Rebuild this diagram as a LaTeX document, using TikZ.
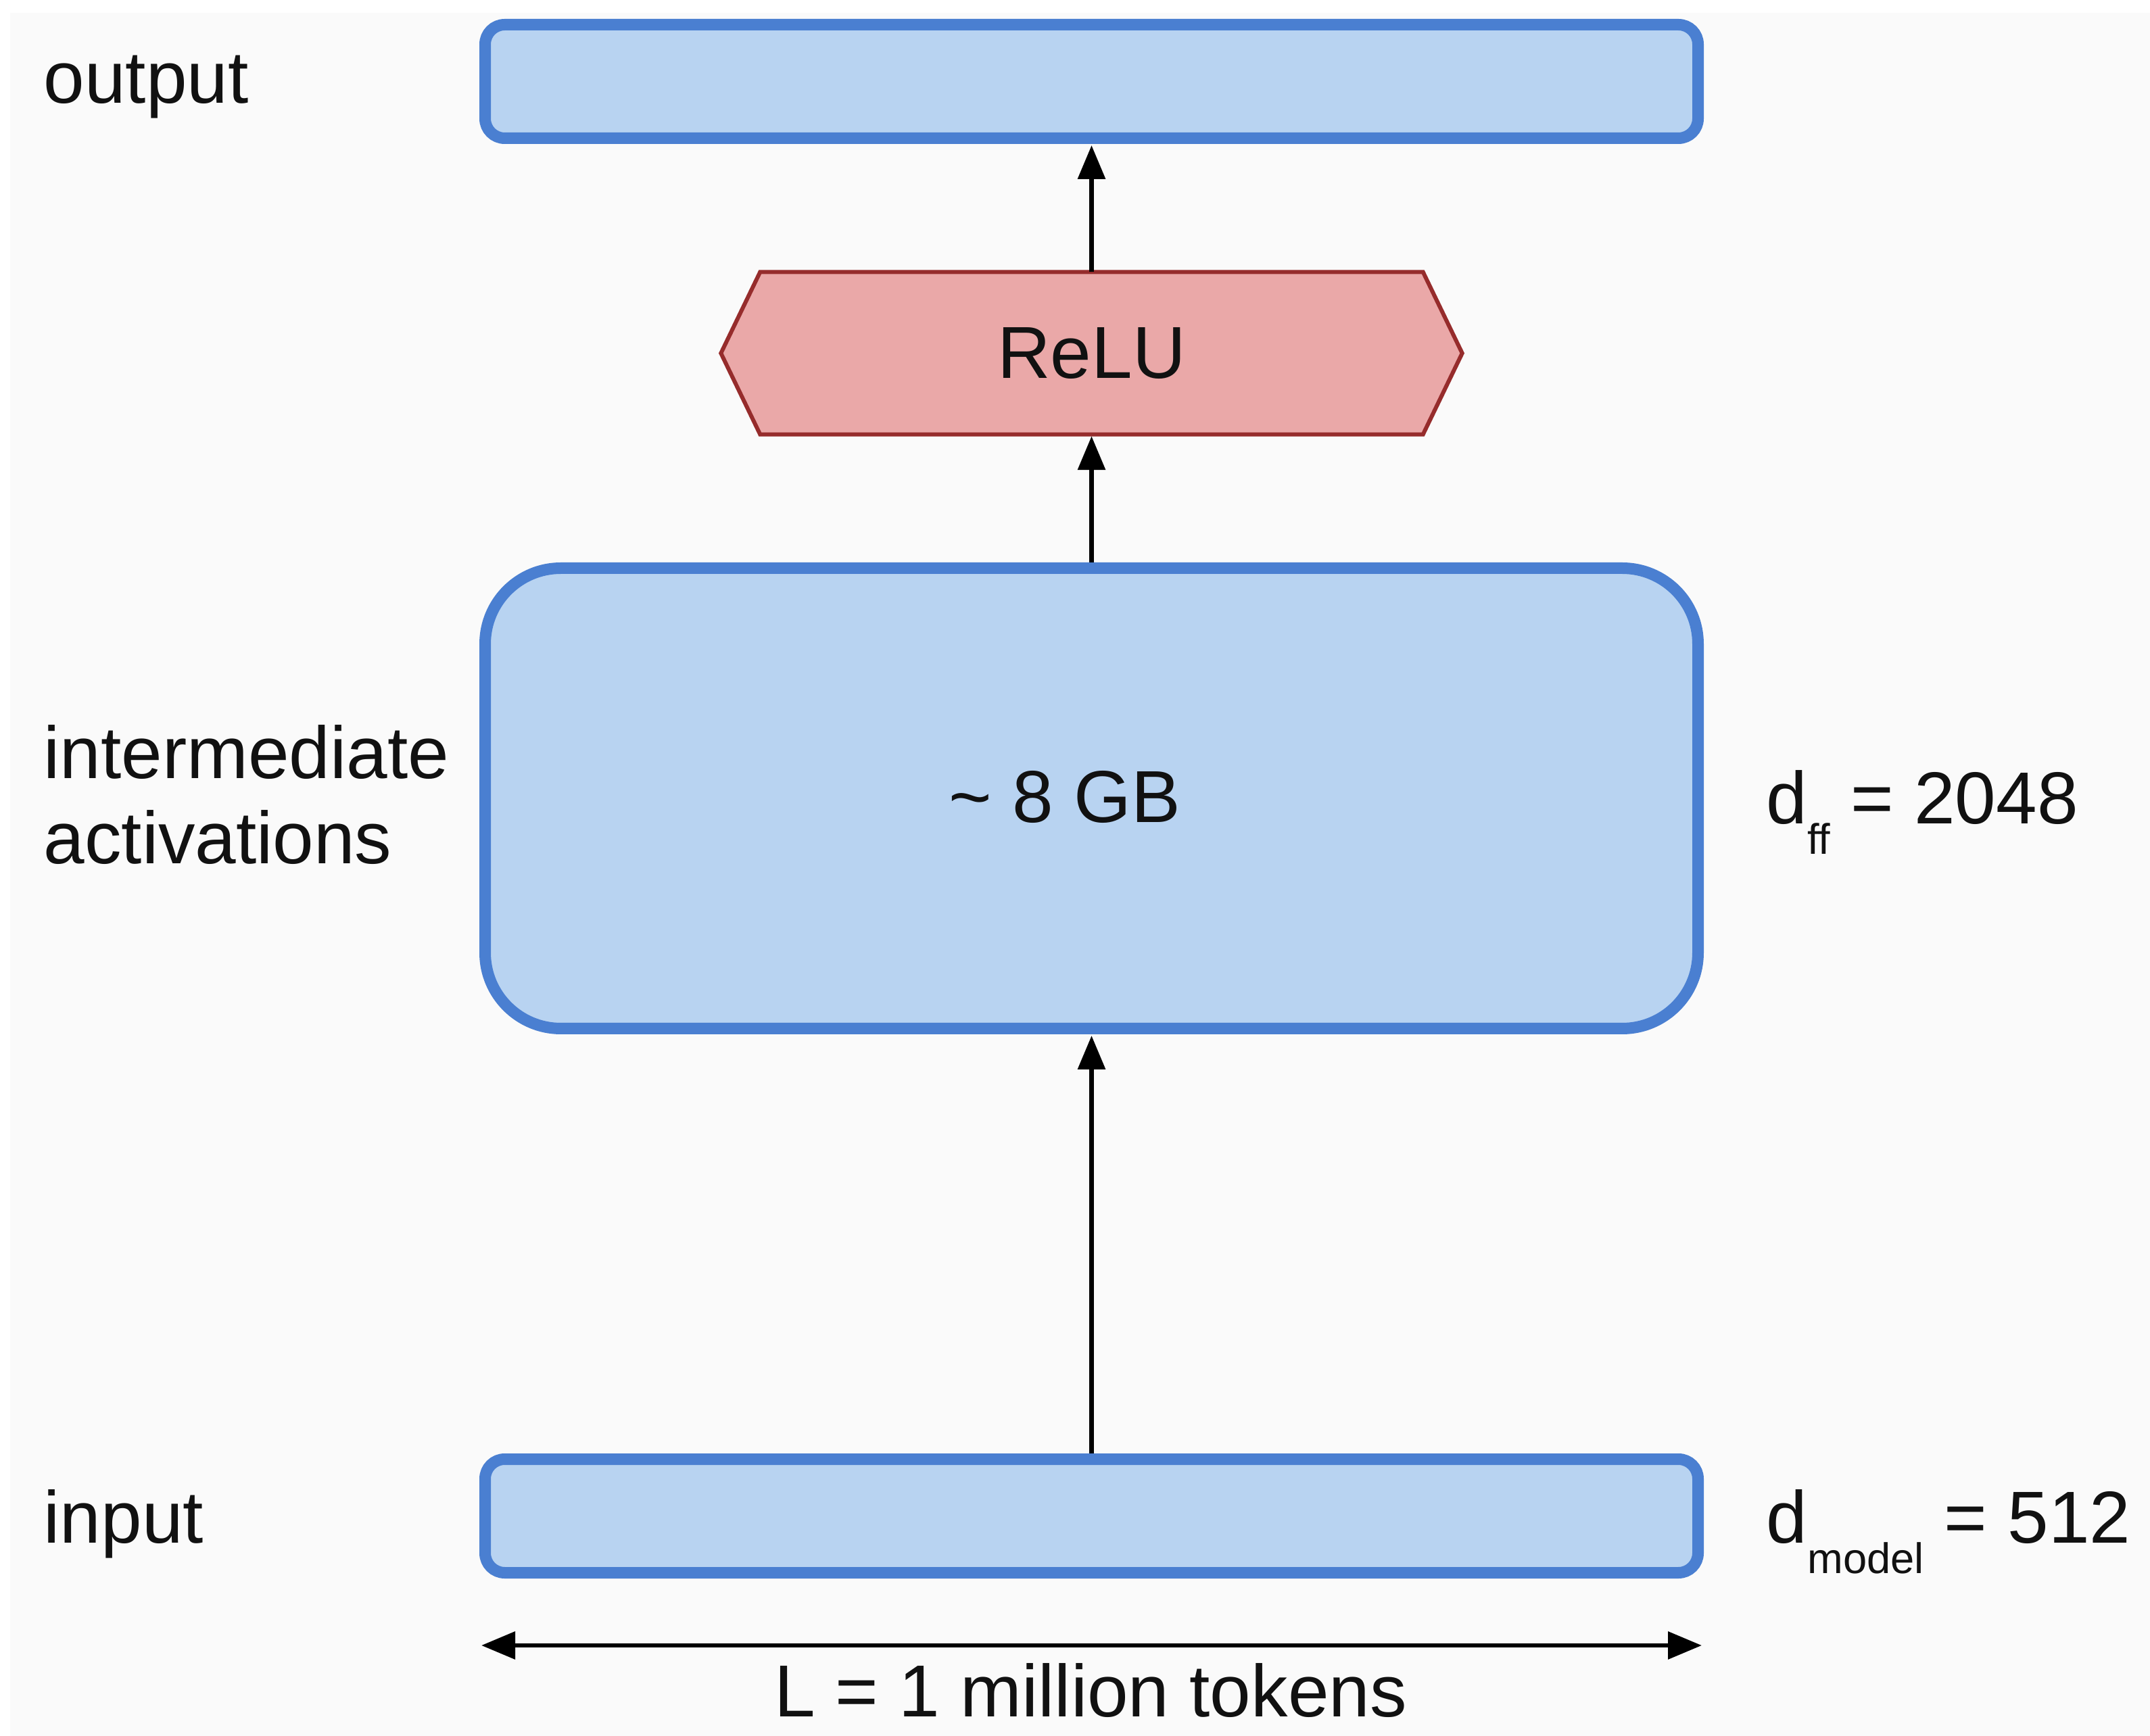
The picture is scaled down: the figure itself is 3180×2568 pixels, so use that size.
\documentclass[tikz,border=0pt]{standalone}
\usepackage{fontspec}
\setmainfont{Liberation Sans}
\usetikzlibrary{arrows.meta,calc,backgrounds}

\definecolor{boxfill}{HTML}{B8D3F1}
\definecolor{boxline}{HTML}{4A7FD1}
\definecolor{relufill}{HTML}{EAA8A8}
\definecolor{reluline}{HTML}{962C2C}
\definecolor{pagebg}{HTML}{FAFAFA}
\definecolor{ink}{HTML}{111111}

% lowered small text for the subscripts of d
\newcommand\lowsub[1]{\raisebox{-4.5mm}{\fontsize{18}{20}\selectfont #1}}

\begin{document}
\begin{tikzpicture}[x=0.1mm,y=-0.1mm,
  font=\fontsize{31}{35.85}\selectfont, text=ink,
  layer box/.style={draw=boxline, fill=boxfill, line width=1.7mm,
    minimum width=179.4mm, inner sep=0pt},
  flow/.style={draw=black, line width=0.65mm,
    -{Triangle[length=5mm,width=4mm]}},
  span arrow/.style={draw=black, line width=0.65mm,
    {Triangle[length=5mm,width=4mm]}-{Triangle[length=5mm,width=4mm]}},
  label text/.style={anchor=base west, inner sep=0pt},
  centre text/.style={anchor=base, inner sep=0pt}]

\useasboundingbox (0,0) rectangle (3180,2568);

% page
\begin{scope}[on background layer]
  \fill[white] (0,0) rectangle (3180,2568);
  \fill[pagebg] (15,19) rectangle (3180,2568);
\end{scope}

% layer blocks
\node[layer box, rounded corners=2.9mm, minimum height=16.8mm] (out) at (1614.5,120.5) {};
\node[layer box, rounded corners=11.2mm, minimum height=68.1mm] (act) at (1614.5,1181) {};
\node[layer box, rounded corners=2.9mm, minimum height=16.8mm] (in) at (1614.5,2242.5) {};

% ReLU hexagon
\node[minimum width=97.9mm, minimum height=23.9mm, inner sep=0pt] (relu) at (1614.5,522.5) {ReLU};
\begin{scope}[on background layer]
  \filldraw[fill=relufill, draw=reluline, line width=0.6mm, line join=miter]
    (relu.north west) -- (relu.north east) -- ($(relu.east)+(58,0)$)
    -- (relu.south east) -- (relu.south west) -- ($(relu.west)-(58,0)$) -- cycle;
\end{scope}

% memory estimate
\node[centre text] (mem) at (1575,1217) {\textasciitilde\ 8 GB};

% data flow
\draw[flow, shorten >=0.2mm] (relu.north) -- (out.south);
\draw[flow, shorten >=0.25mm] (act.north) -- (relu.south);
\draw[flow, shorten >=0.2mm] (in.north) -- (act.south);

% sequence length
\coordinate (span west) at (712,2434);
\coordinate (span east) at (2517,2434);
\draw[span arrow] (span west) -- (span east);
\node[centre text] (len) at (1613,2539) {L = 1 million tokens};

% left-hand labels
\node[label text] (outlbl) at (64,153) {output};
\node[label text] (actlbl1) at (64,1152) {intermediate};
\node[label text] (actlbl2) at (64,1278) {activations};
\node[label text] (inlbl) at (64,2282) {input};

% right-hand dimensions
\node[label text] (dff) at (2612,1219) {d\lowsub{ff} = 2048};
\node[label text] (dmodel) at (2612,2282) {d\lowsub{model} = 512};

\end{tikzpicture}
\end{document}
